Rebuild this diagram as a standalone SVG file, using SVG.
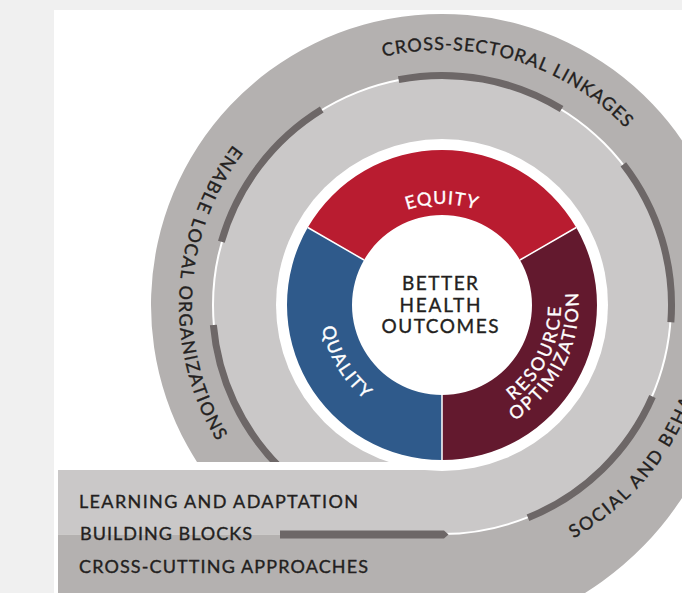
<svg xmlns="http://www.w3.org/2000/svg" width="682" height="593" viewBox="0 0 682 593">
  <style>
    .lbl{font-family:Lato,"Open Sans","DejaVu Sans",sans-serif;font-size:18px;fill:#231f20;stroke:#231f20;stroke-width:0.35px;letter-spacing:1.5px}
    .inv{fill:#ffffff;stroke:#ffffff}
    .core{font-size:19px;letter-spacing:0}
    .flat{letter-spacing:0}
    .bar{fill:none;stroke:#6d6767;stroke-width:7}
    .seam{fill:none;stroke:#ffffff;stroke-width:1.5}
  </style>
  <defs>
    <!-- removes the lower-left quarter of the rings so the band can run underneath -->
    <clipPath id="cut"><path d="M0,0H682V593H442V462H0Z"/></clipPath>
    <!-- baselines for the curved labels -->
    <path id="pEquity" d="M353.67,253.5 A103.5,103.5 0 0 1 530.33,253.5"/>
    <path id="pQuality" d="M335.3,245.9 A122,122 0 0 0 444.13,426.98"/>
    <path id="pResource" d="M449.06,423.79 A119,119 0 0 0 541.34,239.49"/>
    <path id="pOptim" d="M451.52,441.17 A136.5,136.5 0 0 0 555.16,228.67"/>
    <path id="pEnable" d="M409.95,43.96 A263,263 0 0 0 382.84,561.26"/>
    <path id="pCross" d="M237.02,153.32 A255,255 0 0 1 696.52,289.43"/>
    <path id="pSocial" d="M573.56,538.48 A268,268 0 0 0 674.09,171"/>
  </defs>

  <!-- page -->
  <rect width="682" height="593" fill="#f0f0f0"/>
  <rect x="54" y="10" width="628" height="583" fill="#ffffff"/>

  <!-- outer and middle rings -->
  <g id="rings" clip-path="url(#cut)">
    <path fill="#b4b1b0" d="M296.5,557.01 A291,291 0 1 1 730.17,345.5
      A294,294 0 0 1 721.65,406.79 A300,300 0 0 1 704.49,456.55 A306,306 0 0 1 678.4,503.36
      A311,311 0 0 1 643.9,545.61 A317,317 0 0 1 601.8,581.78 A322,322 0 0 1 553.19,610.49
      A328,328 0 0 1 499.41,630.58 A333,333 0 0 1 442,641.1 Z"/>
    <circle cx="442" cy="305" r="229" fill="#cac8c8"/>
    <circle cx="442" cy="305" r="229" fill="none" stroke="#ffffff" stroke-width="2"/>
  </g>

  <!-- unrolled band along the bottom -->
  <g id="band">
    <rect x="58" y="470" width="384" height="64.5" fill="#cac8c8"/>
    <rect x="58" y="534.5" width="384" height="60" fill="#b4b1b0"/>
  </g>

  <circle cx="442" cy="305" r="166" fill="#ffffff"/>

  <!-- dark segments riding on the ring -->
  <g id="links">
    <g clip-path="url(#cut)">
      <path class="bar" d="M398.6,79.64 A229.5,229.5 0 0 1 561.57,109.11"/>
      <path class="bar" d="M221.39,241.74 A229.5,229.5 0 0 1 321.74,109.53"/>
      <path class="bar" d="M279.72,467.28 A229.5,229.5 0 0 1 213.37,325"/>
      <path class="bar" d="M623.34,164.34 A229.5,229.5 0 0 1 670.86,322.21"/>
      <path class="bar" d="M652.47,396.51 A229.5,229.5 0 0 1 527.97,517.79"/>
    </g>
    <path fill="#6d6767" d="M280,530.5 H444 L448.5,534.5 L444,538.5 H280 Z"/>
  </g>

  <!-- core wheel -->
  <g id="node-equity">
    <path fill="#b91c30" d="M307.77,227.5 A155,155 0 0 1 576.23,227.5 L519.94,260 A90,90 0 0 0 364.06,260 Z"/>
    <text class="lbl inv" text-anchor="middle" style="letter-spacing:1px"><textPath href="#pEquity" startOffset="50%">EQUITY</textPath></text>
  </g>
  <g id="node-resource">
    <path fill="#63192e" d="M576.23,227.5 A155,155 0 0 1 442,460 L442,395 A90,90 0 0 0 519.94,260 Z"/>
    <text class="lbl inv" text-anchor="middle" style="letter-spacing:2.3px"><textPath href="#pResource" startOffset="50%">RESOURCE</textPath></text>
    <text class="lbl inv" text-anchor="middle" style="letter-spacing:2px"><textPath href="#pOptim" startOffset="50%">OPTIMIZATION</textPath></text>
  </g>
  <g id="node-quality">
    <path fill="#2f5a8b" d="M442,460 A155,155 0 0 1 307.77,227.5 L364.06,260 A90,90 0 0 0 442,395 Z"/>
    <text class="lbl inv" text-anchor="middle" style="letter-spacing:1.6px"><textPath href="#pQuality" startOffset="50%">QUALITY</textPath></text>
  </g>
  <g id="seams">
    <path class="seam" d="M307.77,227.5 L364.06,260 M576.23,227.5 L519.94,260 M442,460 L442,395"/>
  </g>
  <g id="node-outcomes">
    <text class="lbl core" x="440" y="290" text-anchor="middle" textLength="76" lengthAdjust="spacing">BETTER</text>
    <text class="lbl core" x="440" y="312" text-anchor="middle" textLength="81" lengthAdjust="spacing">HEALTH</text>
    <text class="lbl core" x="440" y="333" text-anchor="middle" textLength="117" lengthAdjust="spacing">OUTCOMES</text>
  </g>

  <!-- ring labels -->
  <g id="node-cross-sectoral">
    <text class="lbl" text-anchor="middle" style="letter-spacing:1px"><textPath href="#pCross" startOffset="50%">CROSS-SECTORAL LINKAGES</textPath></text>
  </g>
  <g id="node-local">
    <text class="lbl" text-anchor="middle" style="letter-spacing:1.5px"><textPath href="#pEnable" startOffset="50%">ENABLE LOCAL ORGANIZATIONS</textPath></text>
  </g>
  <g id="node-social">
    <text class="lbl" style="letter-spacing:2px"><textPath href="#pSocial">SOCIAL AND BEHA</textPath></text>
  </g>

  <!-- band labels -->
  <g id="node-learning">
    <text class="lbl flat" x="79" y="508" textLength="279" lengthAdjust="spacing">LEARNING AND ADAPTATION</text>
  </g>
  <g id="node-blocks">
    <text class="lbl flat" x="80" y="540" textLength="172" lengthAdjust="spacing">BUILDING BLOCKS</text>
  </g>
  <g id="node-crosscutting">
    <text class="lbl flat" x="79" y="573" textLength="289" lengthAdjust="spacing">CROSS-CUTTING APPROACHES</text>
  </g>
</svg>
